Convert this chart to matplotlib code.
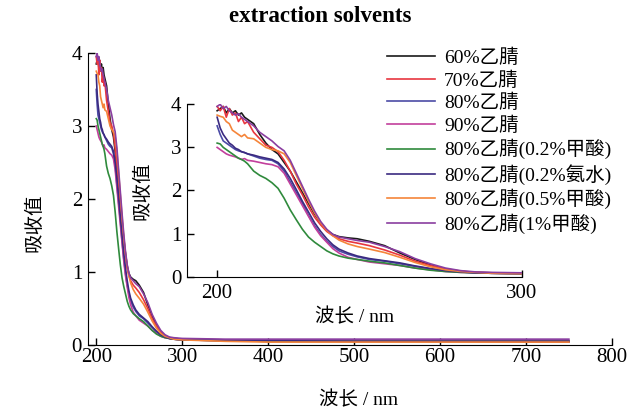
import matplotlib
matplotlib.use("Agg")
import matplotlib.pyplot as plt

plt.rcParams['font.family'] = ['Liberation Serif', 'Noto Sans CJK SC']
plt.rcParams['axes.unicode_minus'] = False

# wavelength grid (nm), shared by all spectra
wavelength = [200, 201, 202, 203, 204, 205, 206, 207, 208, 209, 210,
              212, 214, 216, 218, 220, 222, 224, 226, 228, 230, 232, 234, 236, 238, 240,
              243, 246, 250, 255, 260, 265, 270, 275, 280, 285, 290, 300,
              350, 400, 500, 600, 700, 750]

labels = ['60%乙腈', '70%乙腈', '80%乙腈', '90%乙腈',
          '80%乙腈(0.2%甲酸)', '80%乙腈(0.2%氨水)', '80%乙腈(0.5%甲酸)', '80%乙腈(1%甲酸)']
colors = ['#1a1a1a', '#e8363f', '#4b4ba6', '#c23f9c',
          '#2f8a3c', '#3b2a80', '#f5853a', '#8a3ea0']

acn60 = [3.85, 3.9, 3.95, 3.8, 3.9, 3.8, 3.85, 3.75, 3.8, 3.7, 3.65,
         3.55, 3.3, 3.1, 2.95, 2.85, 2.65, 2.45, 2.2, 1.95, 1.7, 1.45, 1.25, 1.08, 0.98, 0.93,
         0.9, 0.88, 0.82, 0.72, 0.55, 0.4, 0.27, 0.17, 0.12, 0.1, 0.09, 0.08,
         0.07, 0.06, 0.06, 0.05, 0.05, 0.05]
acn70 = [3.95, 3.85, 3.95, 3.7, 3.9, 3.75, 3.8, 3.6, 3.7, 3.55, 3.6,
         3.35, 3.2, 3.05, 3.0, 2.9, 2.7, 2.45, 2.15, 1.9, 1.62, 1.38, 1.2, 1.05, 0.95, 0.88,
         0.82, 0.78, 0.72, 0.62, 0.5, 0.36, 0.26, 0.18, 0.13, 0.1, 0.09, 0.08,
         0.06, 0.05, 0.05, 0.05, 0.04, 0.04]
acn80 = [3.5, 3.3, 3.15, 3.1, 3.05, 3.0, 2.95, 2.92, 2.9, 2.88, 2.85,
         2.8, 2.75, 2.72, 2.7, 2.62, 2.45, 2.2, 1.95, 1.7, 1.42, 1.18, 0.98, 0.82, 0.7, 0.6,
         0.52, 0.46, 0.4, 0.36, 0.3, 0.24, 0.18, 0.14, 0.11, 0.09, 0.08, 0.07,
         0.06, 0.05, 0.05, 0.05, 0.05, 0.05]
acn90 = [3.0, 2.95, 2.9, 2.85, 2.82, 2.8, 2.78, 2.75, 2.72, 2.74, 2.7,
         2.68, 2.65, 2.62, 2.6, 2.55, 2.4, 2.15, 1.9, 1.65, 1.4, 1.15, 0.95, 0.8, 0.65, 0.55,
         0.45, 0.4, 0.34, 0.3, 0.26, 0.2, 0.16, 0.12, 0.1, 0.09, 0.08, 0.07,
         0.06, 0.06, 0.06, 0.06, 0.06, 0.06]
fa02 = [3.1, 3.08, 3.0, 2.95, 2.9, 2.85, 2.8, 2.75, 2.72, 2.68, 2.62,
        2.45, 2.35, 2.28, 2.18, 2.05, 1.82, 1.55, 1.32, 1.1, 0.92, 0.8, 0.7, 0.6, 0.53, 0.48,
        0.43, 0.4, 0.36, 0.32, 0.26, 0.2, 0.15, 0.12, 0.1, 0.09, 0.08, 0.07,
        0.06, 0.05, 0.05, 0.05, 0.05, 0.05]
nh3 = [3.7, 3.45, 3.3, 3.2, 3.1, 3.05, 2.98, 2.95, 2.9, 2.88, 2.85,
       2.82, 2.78, 2.75, 2.72, 2.65, 2.5, 2.28, 2.02, 1.75, 1.5, 1.25, 1.05, 0.88, 0.74, 0.64,
       0.55, 0.48, 0.42, 0.37, 0.32, 0.25, 0.19, 0.14, 0.11, 0.09, 0.08, 0.07,
       0.06, 0.06, 0.05, 0.05, 0.05, 0.05]
fa05 = [3.75, 3.72, 3.7, 3.6, 3.55, 3.4, 3.35, 3.3, 3.25, 3.3, 3.22,
        3.2, 3.1, 3.0, 2.95, 2.92, 2.85, 2.65, 2.35, 2.05, 1.75, 1.48, 1.25, 1.08, 0.95, 0.85,
        0.76, 0.7, 0.64, 0.56, 0.45, 0.33, 0.23, 0.16, 0.12, 0.1, 0.08, 0.07,
        0.05, 0.04, 0.04, 0.04, 0.04, 0.04]
fa1 = [3.95, 4.0, 3.9, 3.95, 3.85, 3.8, 3.75, 3.78, 3.7, 3.65, 3.6,
       3.5, 3.35, 3.25, 3.15, 3.02, 2.92, 2.7, 2.4, 2.1, 1.8, 1.52, 1.28, 1.1, 0.98, 0.92,
       0.88, 0.84, 0.8, 0.7, 0.58, 0.42, 0.3, 0.2, 0.14, 0.11, 0.1, 0.09,
       0.08, 0.08, 0.08, 0.08, 0.08, 0.08]

spectra = [acn60, acn70, acn80, acn90, fa02, nh3, fa05, fa1]


def style_axes(ax, xpad=2):
    ax.spines['top'].set_visible(False)
    ax.spines['right'].set_visible(False)
    ax.tick_params(direction='in', length=5, width=1, labelsize=15)
    ax.tick_params(axis='x', pad=xpad)
    ax.tick_params(axis='y', pad=4)


fig = plt.figure(figsize=(6.4, 4.09), dpi=100)
ax = fig.add_axes([0.137, 0.1565, 0.819, 0.714])
lines = []
for y, c in zip(spectra, colors):
    lines += ax.plot(wavelength, y, color=c, lw=1.2)
ax.set_xlim(190, 800)
ax.set_ylim(0, 4)
ax.set_xticks([200, 300, 400, 500, 600, 700, 800])
ax.set_yticks([0, 1, 2, 3, 4])
style_axes(ax)
ax.set_xlabel('波长 / nm', fontsize=14)
ax.xaxis.set_label_coords(0.516, -0.158)
ax.set_ylabel('吸收值', fontsize=14)
ax.yaxis.set_label_coords(-0.085, 0.418)
fig.suptitle('extraction solvents', fontsize=16.5, fontweight='bold', y=0.985)

# inset zoom on 200-300 nm
ins = fig.add_axes([0.2917, 0.3235, 0.5234, 0.4215])
ins.patch.set_alpha(0)
for y, c in zip(spectra, colors):
    ins.plot(wavelength, y, color=c, lw=1.2)
ins.set_xlim(190, 300)
ins.set_ylim(0, 4)
ins.set_xticks([200, 300])
ins.set_yticks([0, 1, 2, 3, 4])
style_axes(ins, xpad=5)
ins.set_xlabel('波长 / nm', fontsize=14, labelpad=4)
ins.set_ylabel('吸收值', fontsize=14, labelpad=14)

leg = fig.legend(lines, labels, loc='upper left', bbox_to_anchor=(0.604, 0.881),
                 frameon=False, fontsize=14, handlelength=2.5, handletextpad=0.45,
                 labelspacing=0.22, borderpad=0, borderaxespad=0)
leg.set_zorder(10)

fig.savefig('out.png', dpi=100)
